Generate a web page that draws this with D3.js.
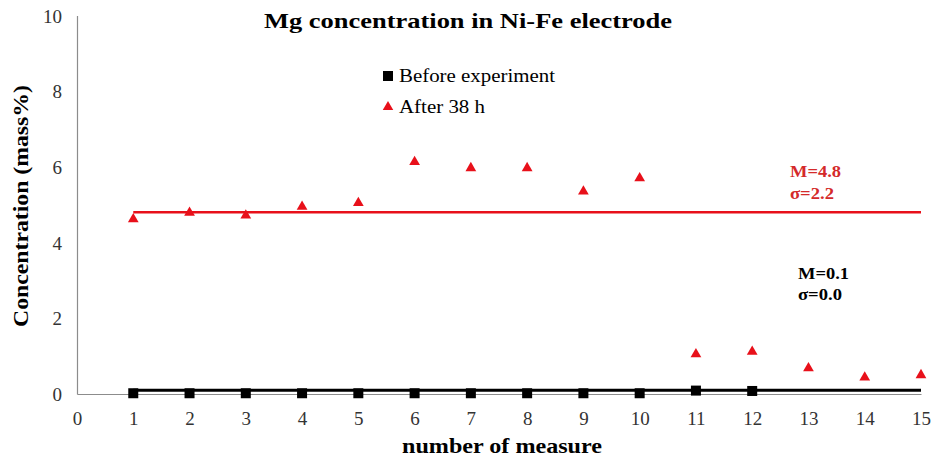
<!DOCTYPE html>
<html>
<head>
<meta charset="utf-8">
<script src="https://cdn.jsdelivr.net/npm/d3@7"></script>
<style>
  html, body { margin: 0; padding: 0; background: #fff; }
  svg { display: block; }
  svg text { font-family: "Liberation Serif", "Times New Roman", serif; }
</style>
</head>
<body>
<svg id="chart" width="932" height="459"></svg>
<script>
// Measurement index 1..15
const measures = [1, 2, 3, 4, 5, 6, 7, 8, 9, 10, 11, 12, 13, 14, 15];
// Mg content before the experiment (mass%), measures 1..12
const before = [0.02, 0.02, 0.02, 0.02, 0.02, 0.02, 0.02, 0.02, 0.02, 0.02, 0.09, 0.08];
// Mg content after 38 h (mass%)
const after = [4.62, 4.79, 4.72, 4.95, 5.05, 6.13, 5.97, 5.97, 5.35, 5.70, 1.05, 1.12, 0.68, 0.44, 0.50];
// Mean lines and their stated statistics
const meanBefore = 0.1, sdBefore = 0.0;
const meanAfter = 4.8, sdAfter = 2.2;
const xTicks = [0, 1, 2, 3, 4, 5, 6, 7, 8, 9, 10, 11, 12, 13, 14, 15];
const yTicks = [0, 2, 4, 6, 8, 10];

const svg = d3.select("#chart");
const x = d3.scaleLinear().domain([0, 15]).range([77, 921]);
const y = d3.scaleLinear().domain([0, 10]).range([394, 15.5]);

const red = "#e8101a";
const serif = '"Liberation Serif", "Times New Roman", serif';

// Text helper: serif text fitted to a given width
function label(parent, opts) {
  const t = parent.append("text")
    .attr("x", opts.x).attr("y", opts.y)
    .attr("text-anchor", opts.anchor || "start")
    .attr("font-size", opts.size)
    .attr("font-weight", opts.bold ? "bold" : "normal")
    .attr("fill", opts.fill || "#000")
    .style("font-family", serif)
    .text(opts.text);
  if (opts.width) t.attr("textLength", opts.width).attr("lengthAdjust", "spacingAndGlyphs");
  if (opts.transform) t.attr("transform", opts.transform);
  return t;
}

// Axes (no tick marks, grey domain lines)
const xAxis = d3.axisBottom(x).tickValues(xTicks).tickSize(0).tickPadding(14).tickFormat(d3.format("d"));
const yAxis = d3.axisLeft(y).tickValues(yTicks).tickSize(0).tickPadding(15).tickFormat(d3.format("d"));

const gx = svg.append("g").attr("transform", `translate(0,${y(0)})`).call(xAxis);
const gy = svg.append("g").attr("transform", `translate(${x(0)},0)`).call(yAxis);
[gx, gy].forEach(g => {
  g.attr("font-family", null).attr("font-size", null);
  g.select(".domain").attr("stroke", "#8c8c8c").attr("stroke-width", 1.2);
  g.selectAll("text")
    .style("font-family", serif)
    .attr("font-size", 19)
    .attr("fill", "#333");
});
gy.selectAll("text").attr("dy", "0.35em");
gx.selectAll("text").attr("dy", "0.9em");

// Mean lines
svg.append("line")
  .attr("x1", x(1)).attr("x2", x(15))
  .attr("y1", y(meanAfter)).attr("y2", y(meanAfter))
  .attr("stroke", red).attr("stroke-width", 2.6);
svg.append("line")
  .attr("x1", x(1)).attr("x2", x(15))
  .attr("y1", y(meanBefore)).attr("y2", y(meanBefore))
  .attr("stroke", "#000").attr("stroke-width", 3);

// Before-experiment squares
const sq = 10;
svg.append("g").selectAll("rect")
  .data(before)
  .join("rect")
  .attr("x", (d, i) => x(measures[i]) - sq / 2)
  .attr("y", d => y(d) - sq / 2)
  .attr("width", sq).attr("height", sq)
  .attr("fill", "#000");

// After-38h triangles
const tri = d3.symbol().type(d3.symbolTriangle).size(50);
svg.append("g").selectAll("path")
  .data(after)
  .join("path")
  .attr("d", tri)
  .attr("transform", (d, i) => `translate(${x(measures[i])},${y(d)})`)
  .attr("fill", red);

// Title
label(svg, { x: 264, y: 28, size: 21, bold: true, width: 408,
  text: "Mg concentration in Ni-Fe electrode" });

// Legend
const legend = svg.append("g");
legend.append("rect")
  .attr("x", 383).attr("y", 71).attr("width", 10).attr("height", 10).attr("fill", "#000");
label(legend, { x: 399, y: 82, size: 19, width: 156, text: "Before experiment" });
legend.append("path")
  .attr("d", d3.symbol().type(d3.symbolTriangle).size(48))
  .attr("transform", "translate(388,107)")
  .attr("fill", red);
label(legend, { x: 399, y: 113, size: 19, width: 86, text: "After 38 h" });

// Statistics annotations
label(svg, { x: 790, y: 177, size: 17, bold: true, fill: "#d42a2a", width: 51,
  text: `M=${meanAfter.toFixed(1)}` });
label(svg, { x: 790, y: 199, size: 17, bold: true, fill: "#d42a2a", width: 44,
  text: `σ=${sdAfter.toFixed(1)}` });
label(svg, { x: 798, y: 279, size: 17, bold: true, width: 51,
  text: `M=${meanBefore.toFixed(1)}` });
label(svg, { x: 798, y: 300, size: 17, bold: true, width: 44,
  text: `σ=${sdBefore.toFixed(1)}` });

// Axis titles
label(svg, { x: 402, y: 453, size: 21, bold: true, width: 200, text: "number of measure" });
label(svg, { x: 0, y: 0, size: 22, bold: true, width: 242, anchor: "middle",
  transform: "translate(28,206) rotate(-90)", text: "Concentration (mass%)" });
</script>
</body>
</html>
